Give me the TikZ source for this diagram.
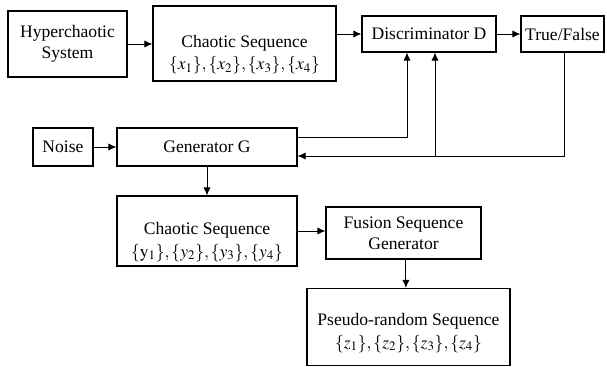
\documentclass[tikz,border=0pt]{standalone}
\usepackage{mathptmx}
\usepackage{fontspec}
\setmainfont{Liberation Serif}
\usetikzlibrary{arrows.meta}

\begin{document}
\begin{tikzpicture}[x=0.025cm,y=-0.025cm,
  blk/.style={draw,line width=0.8pt,inner sep=0pt},
  txt/.style={inner sep=0pt,align=center,font=\rmfamily\fontsize{12.5}{15}\selectfont},
  flow/.style={line width=0.7pt,-{Latex[length=2mm,width=1.8mm]}},
  wire/.style={line width=0.7pt}]
\useasboundingbox (0,0) rectangle (607,367);
\node[blk,txt,minimum width=2.975cm,minimum height=1.65cm] (hyper) at (67.5,44) {Hyperchaotic\\System};
\node[blk,minimum width=4.575cm,minimum height=1.875cm] (chx) at (244.5,43.5) {};
\node[txt] (chxt) at ([yshift=-0.28cm]chx.center) {Chaotic Sequence\\[1pt]$\{x_1\},\{x_2\},\{x_3\},\{x_4\}$};
\node[blk,txt,minimum width=3.35cm,minimum height=0.9cm] (disc) at (429,34) {Discriminator D};
\node[blk,txt,minimum width=2.075cm,minimum height=0.9cm] (tf) at (562.5,34) {True/False};
\node[blk,txt,minimum width=1.5cm,minimum height=0.95cm] (noise) at (63,147) {Noise};
\node[blk,txt,minimum width=4.5cm,minimum height=0.95cm] (gen) at (207,147) {Generator G};
\node[blk,minimum width=4.5cm,minimum height=1.75cm] (chy) at (207,231) {};
\node[txt] (chyt) at ([yshift=-0.275cm]chy.center) {Chaotic Sequence\\[1pt]$\{\mathrm{y}_1\},\{y_2\},\{y_3\},\{y_4\}$};
\node[blk,txt,minimum width=3.875cm,minimum height=1.3cm] (fus) at (403.5,233) {Fusion Sequence\\Generator};
\node[blk,minimum width=5.075cm,minimum height=1.925cm] (prs) at (408.5,327) {};
\node[txt] (prst) at ([yshift=-0.15cm]prs.center) {Pseudo-random Sequence\\[1pt]$\{z_1\},\{z_2\},\{z_3\},\{z_4\}$};

\coordinate (gout) at ([yshift=0.25cm]gen.east);
\coordinate (gin) at ([yshift=-0.225cm]gen.east);
\coordinate (dl) at ([xshift=-0.55cm]disc.south);
\coordinate (dr) at ([xshift=0.15cm]disc.south);
\coordinate (fb) at (dr |- gin);

\draw[flow] (hyper.east) -- (hyper.east -| chx.west);
\draw[flow] (disc.west -| chx.east) -- (disc.west);
\draw[flow] (disc.east) -- (tf.west);
\draw[flow] (noise.east) -- (gen.west);
\draw[flow] (gout) -| (dl);
\draw[wire] ([xshift=0.06cm]tf.south) |- (fb);
\draw[flow] (fb) -- (gin);
\draw[flow] (fb) -- (dr);
\draw[flow] (gen.south) -- (chy.north);
\draw[flow] (chy.east) -- (chy.east -| fus.west);
\draw[flow] ([xshift=0.06cm]fus.south) -- ([xshift=0.06cm]fus.south |- prs.north);
\end{tikzpicture}
\end{document}
